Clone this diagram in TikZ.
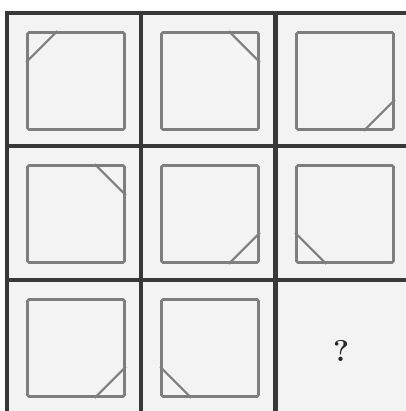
\documentclass[tikz,border=0pt]{standalone}
\usepackage{xcolor}
\usepackage{tikz}
\usetikzlibrary{positioning, calc}

\definecolor{gridgray}{HTML}{383838}
\definecolor{framegray}{HTML}{7E7E7E}
\definecolor{cellbg}{HTML}{F3F3F3}

\begin{document}
\begin{tikzpicture}[
  x=1pt, y=-1pt,
  cell/.style={
    draw=gridgray, line width=3.4pt, fill=cellbg,
    minimum width=134pt, minimum height=134pt, inner sep=0pt
  },
  frame/.style={
    draw=framegray, line width=2.6pt, rounded corners=1.5pt,
    minimum width=97pt, minimum height=97pt, inner sep=0pt
  },
  cut/.style={draw=framegray, line width=2.2pt},
  asklabel/.style={font=\huge, text=black!85}
]

\useasboundingbox[fill=white] (0,0) rectangle (405,411);

% the nine cells
\foreach \r/\y in {1/80, 2/213, 3/347}
  \foreach \c/\x in {1/74, 2/208, 3/343}
    \node[cell] (cell\r\c) at (\x,\y) {};

% squares with one corner cut off
\foreach \r/\c/\anc/\sx/\sy in {
  1/1/north west/1/-1, 1/2/north east/-1/-1, 1/3/south east/-1/1,
  2/1/north east/-1/-1, 2/2/south east/-1/1, 2/3/south west/1/1,
  3/1/south east/-1/1, 3/2/south west/1/1}{
  \node[frame] (sq\r\c) at ([xshift=2pt, yshift=-1pt]cell\r\c.center) {};
  \draw[cut] ([yshift=\sy*31pt]sq\r\c.\anc) -- ([xshift=\sx*31pt]sq\r\c.\anc);
}

\node[asklabel] (ask) at ([xshift=-2pt, yshift=-4pt]cell33.center) {\scalebox{1.45}{\bfseries ?}};

\end{tikzpicture}
\end{document}
